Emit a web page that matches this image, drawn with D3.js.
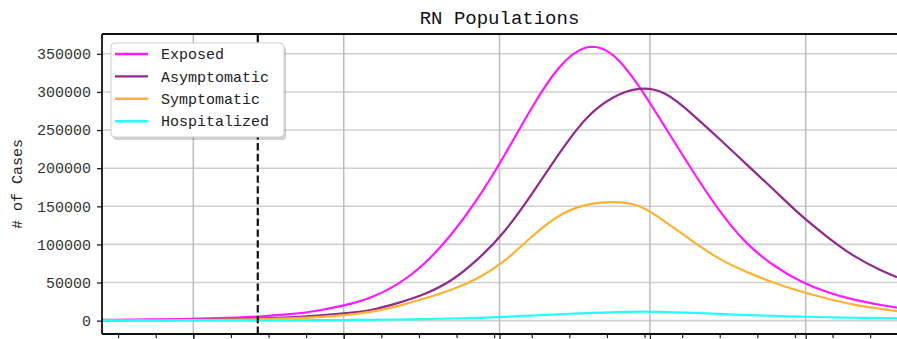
<!DOCTYPE html>
<html>
<head>
<meta charset="utf-8">
<script src="https://cdn.jsdelivr.net/npm/d3@7"></script>
<style>
  html, body { margin: 0; padding: 0; background: #fff; }
  svg { display: block; }
  text { font-family: "Liberation Mono", "DejaVu Sans Mono", monospace; }
</style>
</head>
<body>
<svg id="chart" width="897" height="339"></svg>
<script>
// Simulation days sampled for each compartment
const days = [0, 5, 10, 15, 20, 25, 30, 35, 40, 45, 50, 55, 60, 65, 70, 75,
              80, 85, 90, 95, 100, 105, 110, 115, 120, 125, 130, 135, 140, 145, 148];

const exposed = [1000, 1300, 1700, 2200, 2900, 4000, 5800, 8500, 13000, 20000, 30500, 48000,
                 75000, 113000, 161000, 218000, 279000, 331000, 358000, 349000, 307000,
                 252000, 196000, 144000, 102000, 73000, 52000, 37500, 27500, 20500, 17000];

const asymptomatic = [400, 550, 750, 1000, 1400, 2000, 2900, 4300, 6500, 9500, 14000, 23000,
                      35000, 53000, 81000, 118000, 166000, 218000, 264000, 292000, 304000,
                      297000, 270000, 238000, 205000, 172000, 139000, 110000, 85000, 66000, 57000];

const symptomatic = [300, 400, 550, 750, 1000, 1400, 2000, 3000, 4700, 7300, 11500, 19000,
                     29000, 40500, 56000, 79000, 110000, 137000, 151500, 155500, 150000,
                     129000, 104000, 81000, 64000, 50000, 38500, 29000, 21000, 15500, 12500];

const hospitalized = [100, 120, 150, 200, 250, 300, 350, 450, 600, 800, 1100, 1500,
                      2100, 2800, 3700, 5000, 6700, 8400, 9900, 11000, 11800,
                      11300, 10200, 8800, 7400, 6300, 5300, 4500, 3800, 3200, 2900];

const seriesNames = ["Exposed", "Asymptomatic", "Symptomatic", "Hospitalized"];
const seriesColors = ["#ff1aff", "#8f2a8f", "#ffb133", "#22ffff"];
const seriesValues = [exposed, asymptomatic, symptomatic, hospitalized];

const yTicks = [0, 50000, 100000, 150000, 200000, 250000, 300000, 350000];
const xMajorTicks = [17, 45, 74, 102, 131];
const xMinorTicks = d3.range(3, 148, 7);
const interventionDay = 29;

const title = "RN Populations";
const yLabel = "# of Cases";

const margin = { left: 102, right: 0, top: 34, bottom: 5 };
const W = 897, H = 339;
const svg = d3.select("#chart");

const x = d3.scaleLinear().domain([0, 148]).range([margin.left, W - margin.right]);
const y = d3.scaleLinear().domain([-17500, 376000]).range([H - margin.bottom, margin.top]);

// Grid
svg.append("g").selectAll("line").data(yTicks).join("line")
  .attr("x1", x(0)).attr("x2", x(148))
  .attr("y1", d => y(d)).attr("y2", d => y(d))
  .attr("stroke", "#d0d0d0").attr("stroke-width", 1.6);
svg.append("g").selectAll("line").data(xMajorTicks).join("line")
  .attr("x1", d => x(d)).attr("x2", d => x(d))
  .attr("y1", y.range()[0]).attr("y2", y.range()[1])
  .attr("stroke", "#bcbcbc").attr("stroke-width", 1.5);

// Axes
const yAxis = d3.axisLeft(y).tickValues(yTicks).tickFormat(d3.format("d")).tickSize(5).tickPadding(6);
const gy = svg.append("g").attr("transform", `translate(${x(0)},0)`).call(yAxis);
gy.select(".domain").remove();
gy.selectAll(".tick line").attr("stroke", "#222").attr("stroke-width", 1.3);
gy.selectAll(".tick text").attr("font-size", 15).attr("fill", "#333")
  .style("font-family", '"Liberation Mono", "DejaVu Sans Mono", monospace');

const gxMinor = svg.append("g").attr("transform", `translate(0,${y.range()[0]})`)
  .call(d3.axisBottom(x).tickValues(xMinorTicks).tickFormat("").tickSize(4));
gxMinor.select(".domain").remove();
gxMinor.selectAll(".tick line").attr("stroke", "#222").attr("stroke-width", 1.2);
const gxMajor = svg.append("g").attr("transform", `translate(0,${y.range()[0]})`)
  .call(d3.axisBottom(x).tickValues(xMajorTicks).tickFormat("").tickSize(7));
gxMajor.select(".domain").remove();
gxMajor.selectAll(".tick line").attr("stroke", "#222").attr("stroke-width", 1.3);

// Series
const line = d3.line().curve(d3.curveNatural);
const plot = svg.append("g");
seriesValues.forEach((vals, i) => {
  plot.append("path")
    .attr("d", line(days.map((d, j) => [x(d), y(vals[j])])))
    .attr("fill", "none")
    .attr("stroke", seriesColors[i])
    .attr("stroke-width", 2.2)
    .attr("stroke-linejoin", "round");
});

// Intervention marker
svg.append("line")
  .attr("x1", x(interventionDay)).attr("x2", x(interventionDay))
  .attr("y1", y.range()[0]).attr("y2", y.range()[1])
  .attr("stroke", "#111").attr("stroke-width", 2.2)
  .attr("stroke-dasharray", "7.4,3.4");

// Frame
const frame = svg.append("g").attr("stroke", "#111").attr("stroke-width", 1.8);
frame.append("line").attr("x1", x(0)).attr("x2", x(0)).attr("y1", y.range()[0]).attr("y2", y.range()[1]);
frame.append("line").attr("x1", x(0)).attr("x2", W).attr("y1", y.range()[1]).attr("y2", y.range()[1]);
frame.append("line").attr("x1", x(0)).attr("x2", W).attr("y1", y.range()[0]).attr("y2", y.range()[0]);

// Title and axis label
svg.append("text")
  .attr("x", (x(0) + x(148)) / 2).attr("y", 24)
  .attr("text-anchor", "middle").attr("font-size", 19).attr("fill", "#111")
  .text(title);
svg.append("text")
  .attr("transform", `translate(17,${(y.range()[0] + y.range()[1]) / 2}) rotate(-90)`)
  .attr("text-anchor", "middle").attr("dy", "0.35em").attr("font-size", 15).attr("fill", "#222")
  .text(yLabel);

// Legend
const lg = svg.append("g").attr("transform", "translate(111,43)");
lg.append("rect").attr("x", 2).attr("y", 3).attr("width", 173).attr("height", 94)
  .attr("rx", 4).attr("fill", "#000").attr("opacity", 0.18);
lg.append("rect").attr("width", 173).attr("height", 94)
  .attr("rx", 4).attr("fill", "#fff").attr("stroke", "#cfcfcf").attr("stroke-width", 1);
seriesNames.forEach((name, i) => {
  const cy = 11 + i * 22.4;
  lg.append("line").attr("x1", 4).attr("x2", 37).attr("y1", cy).attr("y2", cy)
    .attr("stroke", seriesColors[i]).attr("stroke-width", 2.4);
  lg.append("text").attr("x", 50).attr("y", cy).attr("dy", "0.35em")
    .attr("font-size", 15).attr("fill", "#222").text(name);
});
</script>
</body>
</html>
